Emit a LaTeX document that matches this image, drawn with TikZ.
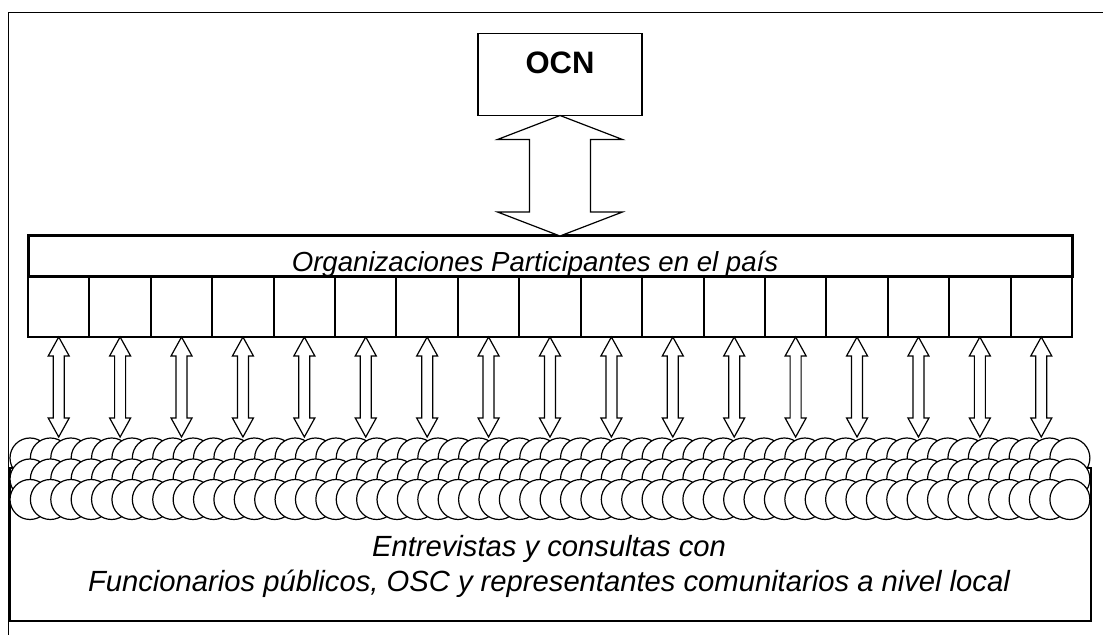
\documentclass[tikz,border=0pt]{standalone}
\usepackage{fontspec}
\setmainfont{Liberation Sans}
\usetikzlibrary{calc}
\begin{document}
\begin{tikzpicture}[x=0.5pt, y=-0.5pt,
    frame/.style={line width=0.9pt},
    box/.style={draw, line width=0.8pt, outer sep=0pt, inner sep=0pt},
    cell/.style={draw, line width=1pt, outer sep=0pt, minimum width=30.7pt, minimum height=30pt},
    blob/.style={draw, circle, fill=white, line width=0.6pt, minimum size=20pt, inner sep=0pt},
    blockarrow/.style={draw, fill=white, line width=0.6pt, line join=miter}]
        \useasboundingbox (0,0) rectangle (1103,635);
        \draw [frame] (8.5,635) |- (1103,12.5);

        \node [box, minimum width=82pt, minimum height=41pt] (ocn) at (560,74.5) {};
        \node [font=\fontsize{15.5}{18}\selectfont\bfseries, anchor=base] (ocnlabel) at (560,74) {OCN};

        \node [box, line width=1.5pt, minimum width=522pt, minimum height=20.5pt] (org) at (550,256.5) {};
        \foreach \i in {1,...,17}
            \node [cell] (c\i) at ({28+61.41*(\i-0.5)},307) {};
        \node [font=\fontsize{13.8}{16}\selectfont\itshape, anchor=base] (orglabel) at (535,272) {Organizaciones Participantes en el país};

        \node [box, minimum width=540.5pt, minimum height=76.5pt] (crowd) at (550.5,544.5) {};
        \coordinate (crowdtop) at (0,437);
        \foreach \r/\y in {t/458, m/479, b/499.5}
            \foreach \k in {1,...,52}
                \node [blob] (\r\k) at ({30+20.39*(\k-1)},\y) {};

        \coordinate (orgtop) at (ocn.south |- org.north);
        \draw [blockarrow] (ocn.south) -- ++(62.5,24) -- ++(-32,0) -- ($(orgtop)+(30.5,-24)$) -- ++(32,0) -- (orgtop)
            -- ++(-62.5,-24) -- ++(32,0) -- ($(ocn.south)+(-30.5,24)$) -- ++(-32,0) -- cycle;
        \foreach \i in {1,...,17} {
            \coordinate (e\i) at (c\i.south |- crowdtop);
            \draw [blockarrow] (c\i.south) -- ++(10.5,19) -- ++(-5,0) -- ($(e\i)+(5.5,-19)$) -- ++(5,0) -- (e\i)
                -- ++(-10.5,-19) -- ++(5,0) -- ($(c\i.south)+(-5.5,19)$) -- ++(-5,0) -- cycle;
        }

        \node [font=\fontsize{14.6}{17.5}\selectfont\itshape, anchor=base] (crowdline1) at (549,556.7) {Entrevistas y consultas con};
        \node [font=\fontsize{14.6}{17.5}\selectfont\itshape, anchor=base] (crowdline2) at (549,592) {Funcionarios públicos, OSC y representantes comunitarios a nivel local};
    \end{tikzpicture}
\end{document}
